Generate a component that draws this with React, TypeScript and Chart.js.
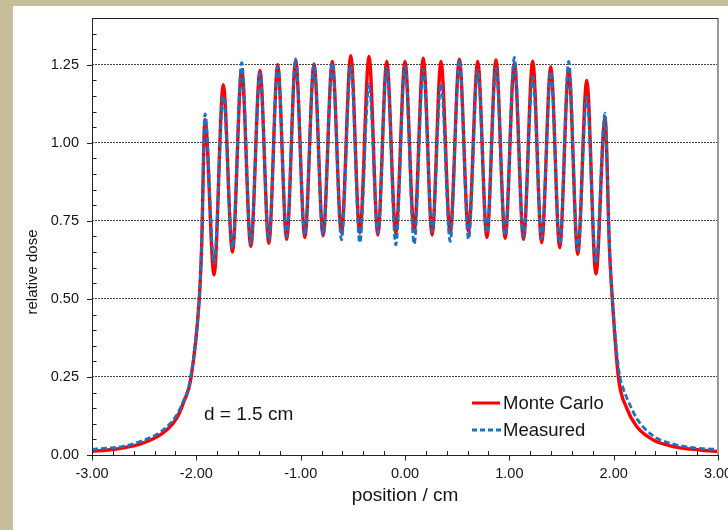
import React, { useEffect, useRef } from "react";
import { Chart, registerables } from "chart.js";

Chart.register(...registerables);

// ---- tick labels ----
const xTickValues = [-3, -2, -1, 0, 1, 2, 3];
const yTickValues = [0, 0.25, 0.5, 0.75, 1.0, 1.25];

// ---- Monte Carlo series (position / cm, relative dose) ----
const mcX = [
  -3.0, -2.85, -2.7, -2.54, -2.38, -2.284, -2.188, -2.125, -2.05, -1.972, -1.95,
  -1.917, -1.83, -1.742, -1.654, -1.565, -1.478, -1.39, -1.305, -1.22, -1.134,
  -1.048, -0.96, -0.872, -0.785, -0.697, -0.609, -0.52, -0.433, -0.345, -0.26,
  -0.175, -0.088, 0.0, 0.088, 0.175, 0.26, 0.345, 0.433, 0.521, 0.609,
  0.697, 0.785, 0.872, 0.96, 1.048, 1.136, 1.224, 1.31, 1.397, 1.483,
  1.569, 1.656, 1.742, 1.83, 1.917,
  1.96, 1.987, 2.045, 2.125, 2.221, 2.38, 2.572, 2.828, 3.0,
];
const mcY = [
  0.012, 0.016, 0.023, 0.035, 0.058, 0.08, 0.118, 0.166, 0.25, 0.5, 0.66,
  1.074, 0.577, 1.186, 0.65, 1.234, 0.668, 1.232, 0.678, 1.25, 0.691,
  1.264, 0.697, 1.253, 0.702, 1.261, 0.711, 1.279, 0.711, 1.277, 0.705,
  1.261, 0.71, 1.261, 0.716, 1.271, 0.705, 1.261, 0.711, 1.268, 0.716,
  1.261, 0.697, 1.266, 0.694, 1.255, 0.691, 1.262, 0.68, 1.244, 0.664,
  1.236, 0.643, 1.2, 0.58, 1.079,
  0.66, 0.5, 0.25, 0.15, 0.091, 0.048, 0.027, 0.016, 0.011,
];

// ---- Measured series ----
const measX = [
  -3.0, -2.85, -2.7, -2.54, -2.38, -2.284, -2.188, -2.125, -2.06, -1.972, -1.95,
  -1.917, -1.83, -1.742, -1.654, -1.565, -1.478, -1.39, -1.305, -1.22, -1.134,
  -1.048, -0.96, -0.872, -0.785, -0.697, -0.609, -0.52, -0.433, -0.345, -0.26,
  -0.175, -0.088, 0.0, 0.088, 0.175, 0.26, 0.345, 0.433, 0.521, 0.609,
  0.697, 0.785, 0.872, 0.96, 1.048, 1.136, 1.224, 1.31, 1.397, 1.483,
  1.569, 1.656, 1.742, 1.83, 1.917,
  1.96, 1.987, 2.05, 2.09, 2.141, 2.221, 2.38, 2.572, 2.828, 3.0,
];
const measY = [
  0.018, 0.022, 0.028, 0.043, 0.066, 0.09, 0.128, 0.172, 0.24, 0.5, 0.66,
  1.093, 0.614, 1.15, 0.662, 1.257, 0.678, 1.223, 0.689, 1.245, 0.7,
  1.269, 0.705, 1.25, 0.705, 1.257, 0.689, 1.25, 0.68, 1.19, 0.711,
  1.239, 0.673, 1.245, 0.676, 1.235, 0.716, 1.19, 0.684, 1.266, 0.691,
  1.234, 0.711, 1.239, 0.705, 1.274, 0.7, 1.212, 0.695, 1.229, 0.678,
  1.261, 0.657, 1.148, 0.614, 1.095,
  0.66, 0.5, 0.27, 0.215, 0.172, 0.117, 0.061, 0.035, 0.021, 0.018,
];

const seriesNames = ["Monte Carlo", "Measured"];
const annotationText = "d = 1.5 cm";
const xTitle = "position / cm";
const yTitle = "relative dose";

const RED = "#ff0000";
const BLUE = "#1a72c4";
const FONT = "'Liberation Sans', Arial, sans-serif";
const TEXT = "#151515";

const decorPlugin = {
  id: "decor",
  afterDraw(chart: any) {
    const { ctx, chartArea: a, scales } = chart;
    const xs = scales.x;
    const ys = scales.y;
    ctx.save();
    // right frame (gray)
    ctx.strokeStyle = "#9a9a9a";
    ctx.lineWidth = 2;
    ctx.beginPath();
    ctx.moveTo(a.right, a.top);
    ctx.lineTo(a.right, a.bottom);
    ctx.stroke();
    // top, left, bottom frame
    ctx.strokeStyle = "#222";
    ctx.lineWidth = 1;
    ctx.beginPath();
    ctx.moveTo(a.left + 0.5, a.top + 0.5);
    ctx.lineTo(a.right, a.top + 0.5);
    ctx.moveTo(a.left + 0.5, a.top);
    ctx.lineTo(a.left + 0.5, a.bottom + 0.5);
    ctx.moveTo(a.left, a.bottom + 0.5);
    ctx.lineTo(a.right, a.bottom + 0.5);
    ctx.stroke();
    // y ticks: major outward, minor inward
    ctx.beginPath();
    for (let i = 1; i <= 28; i++) {
      const v = i * 0.05;
      const py = Math.round(ys.getPixelForValue(v)) + 0.5;
      if (i % 5 === 0) {
        ctx.moveTo(a.left - 5, py);
        ctx.lineTo(a.left, py);
      } else {
        ctx.moveTo(a.left, py);
        ctx.lineTo(a.left + 4.5, py);
      }
    }
    ctx.moveTo(a.left - 5, a.bottom + 0.5);
    ctx.lineTo(a.left, a.bottom + 0.5);
    // x ticks
    for (let i = 0; i <= 30; i++) {
      const v = -3 + i * 0.2;
      const px = Math.round(xs.getPixelForValue(v)) + 0.5;
      if (i % 5 === 0) {
        ctx.moveTo(px, a.bottom);
        ctx.lineTo(px, a.bottom + 5.5);
      } else {
        ctx.moveTo(px, a.bottom - 4);
        ctx.lineTo(px, a.bottom);
      }
    }
    ctx.stroke();

    // legend
    ctx.fillStyle = TEXT;
    ctx.font = `18.5px ${FONT}`;
    ctx.textBaseline = "middle";
    ctx.textAlign = "left";
    ctx.lineWidth = 3;
    ctx.strokeStyle = RED;
    ctx.beginPath();
    ctx.moveTo(459, 397);
    ctx.lineTo(487, 397);
    ctx.stroke();
    ctx.fillText(seriesNames[0], 490, 398);
    ctx.lineWidth = 2.8;
    ctx.strokeStyle = BLUE;
    ctx.setLineDash([5, 3]);
    ctx.beginPath();
    ctx.moveTo(459, 424);
    ctx.lineTo(488, 424);
    ctx.stroke();
    ctx.setLineDash([]);
    ctx.fillText(seriesNames[1], 490, 425);

    // annotation
    ctx.font = `19px ${FONT}`;
    ctx.fillText(annotationText, 191, 409);

    // axis titles
    ctx.font = `19px ${FONT}`;
    ctx.textAlign = "center";
    ctx.fillText(xTitle, 392, 490);
    ctx.save();
    ctx.translate(20, 266);
    ctx.rotate(-Math.PI / 2);
    ctx.font = `15px ${FONT}`;
    ctx.fillText(yTitle, 0, 0);
    ctx.restore();
    ctx.restore();
  },
};

export default function App() {
  const ref = useRef<HTMLCanvasElement>(null);
  useEffect(() => {
    const chart = new Chart(ref.current as HTMLCanvasElement, {
      type: "line",
      data: {
        datasets: [
          {
            label: seriesNames[1],
            data: measX.map((x, i) => ({ x, y: measY[i] })),
            borderColor: BLUE,
            borderWidth: 2.8,
            borderDash: [6, 3],
            pointRadius: 0,
            cubicInterpolationMode: "monotone",
            fill: false,
          },
          {
            label: seriesNames[0],
            data: mcX.map((x, i) => ({ x, y: mcY[i] })),
            borderColor: RED,
            borderWidth: 3.4,
            pointRadius: 0,
            cubicInterpolationMode: "monotone",
            fill: false,
          },
        ],
      },
      options: {
        responsive: false,
        animation: false,
        events: [],
        layout: { padding: { left: 0, top: 12, right: 10, bottom: 0 } },
        plugins: { legend: { display: false }, tooltip: { enabled: false } },
        scales: {
          x: {
            type: "linear",
            min: -3,
            max: 3,
            afterBuildTicks: (s: any) => {
              s.ticks = xTickValues.map((v) => ({ value: v }));
            },
            afterFit: (s: any) => {
              s.height = 75;
              s.paddingLeft = 0;
              s.paddingRight = 0;
            },
            grid: { display: false, drawTicks: false },
            border: { display: false },
            ticks: {
              padding: 10,
              autoSkip: false,
              maxRotation: 0,
              color: TEXT,
              font: { family: FONT, size: 14.5 },
              callback: (v: any) => Number(v).toFixed(2),
            },
          },
          y: {
            type: "linear",
            min: 0,
            max: 1.4,
            afterBuildTicks: (s: any) => {
              s.ticks = yTickValues.map((v) => ({ value: v }));
            },
            afterFit: (s: any) => {
              s.width = 79;
              s.paddingTop = 0;
              s.paddingBottom = 0;
            },
            grid: {
              drawTicks: false,
              lineWidth: 1,
              color: (c: any) => (c.tick && c.tick.value === 0 ? "rgba(0,0,0,0)" : "#444"),
            },
            border: { display: false, dash: [2, 1] },
            ticks: {
              padding: 13,
              color: TEXT,
              font: { family: FONT, size: 14.5 },
              callback: (v: any) => Number(v).toFixed(2),
            },
          },
        },
      },
      plugins: [decorPlugin],
    } as any);
    return () => chart.destroy();
  }, []);

  return (
    <div
      style={{
        position: "fixed",
        left: 0,
        top: 0,
        width: 728,
        height: 530,
        background: "#c6bd9a",
        overflow: "hidden",
      }}
    >
      <div
        style={{
          position: "absolute",
          left: 13,
          top: 6,
          width: 715,
          height: 524,
          background: "#ffffff",
        }}
      >
        <canvas ref={ref} width={715} height={524} style={{ display: "block", width: 715, height: 524 }} />
      </div>
    </div>
  );
}
